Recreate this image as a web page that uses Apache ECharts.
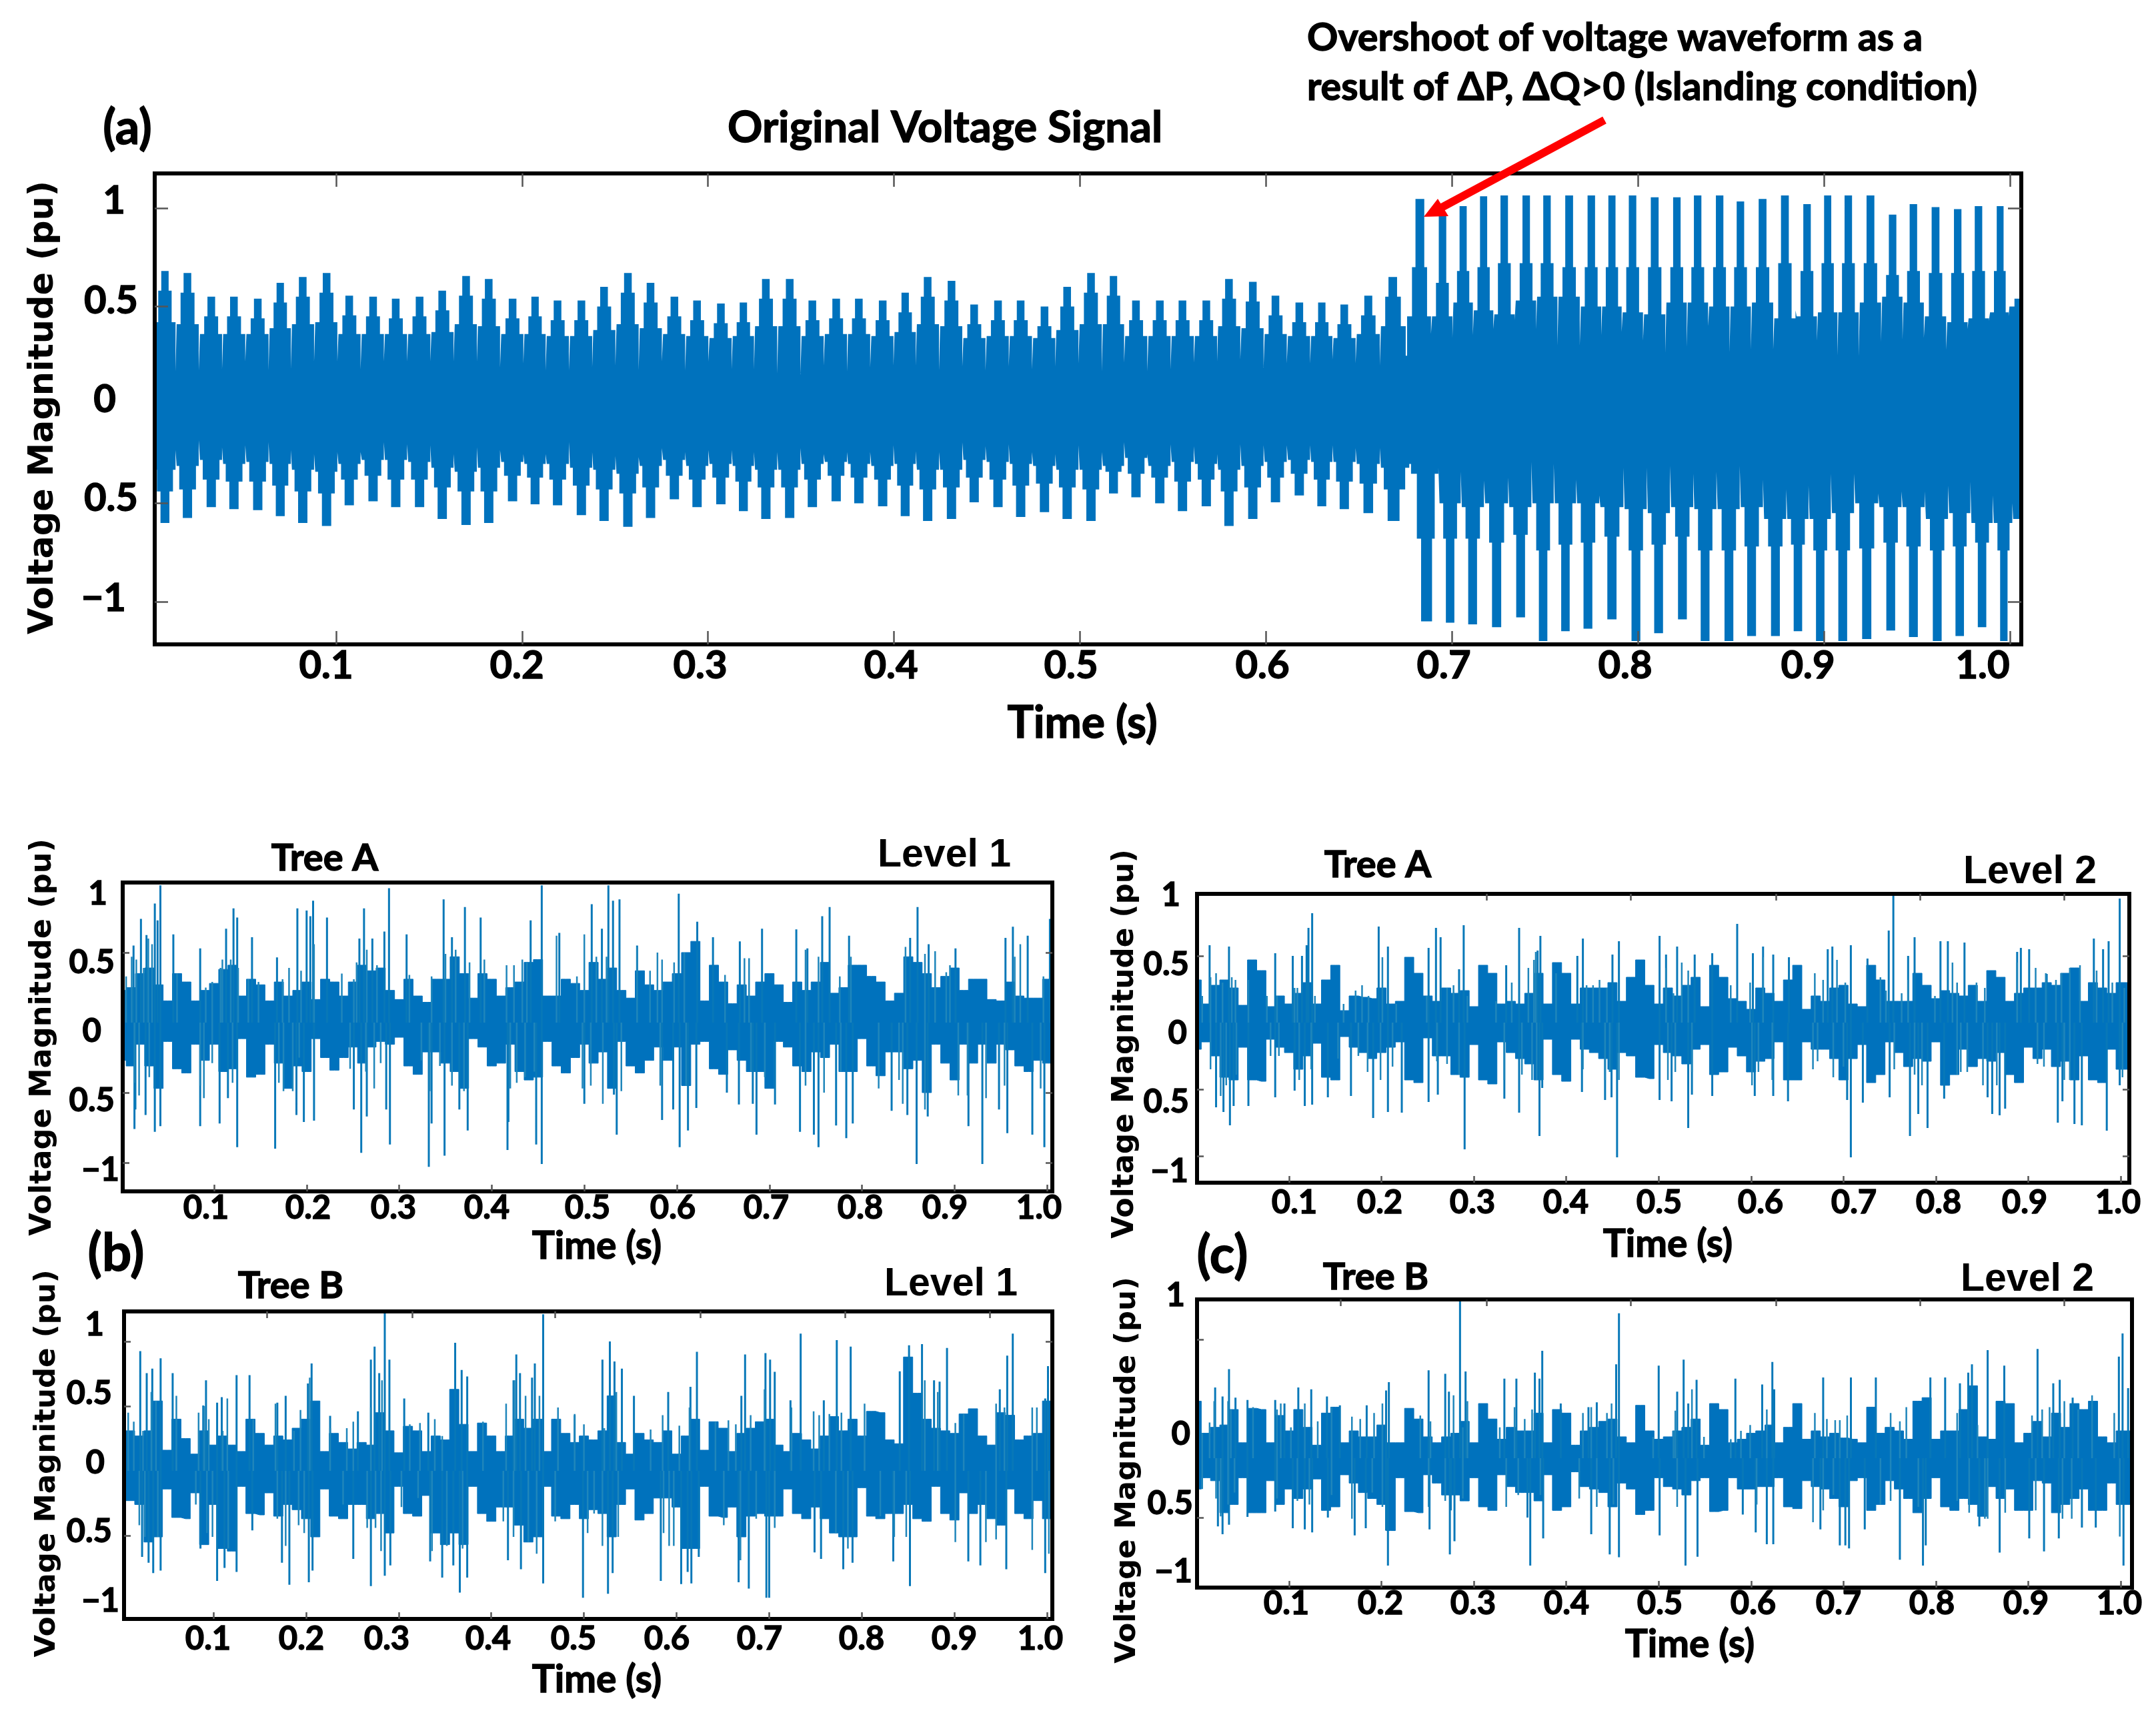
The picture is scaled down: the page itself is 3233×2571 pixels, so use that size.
<!DOCTYPE html>
<html><head><meta charset="utf-8">
<style>html,body{margin:0;padding:0;background:#fff}#c{width:3233px;height:2571px}</style>
<script src="https://cdn.jsdelivr.net/npm/echarts@6/dist/echarts.min.js"></script>
</head><body><div id="c"></div>
<script>
// ---------- Panel (a): burst-by-burst readings of the waveform envelope (pu) ----------
const aTimePre=[.008,.020,.033,.045,.058,.070,.082,.095,.107,.120,.132,.145,.157,.170,.182,.195,.207,.219,.232,.244,.257,.269,.282,.294,.307,.319,.331,.344,.356,.369,.381,.394,.406,.418,.431,.443,.456,.468,.481,.493,.506,.518,.530,.543,.555,.568,.580,.593,.605,.618,.630,.642,.655,.668];
const aPeakUpPre=[.68,.67,.55,.55,.54,.62,.65,.67,.555,.55,.54,.55,.58,.655,.64,.54,.55,.53,.53,.6,.67,.62,.55,.53,.515,.52,.64,.64,.53,.54,.54,.53,.57,.65,.63,.51,.53,.53,.5,.6,.67,.655,.53,.53,.53,.53,.64,.625,.555,.52,.52,.51,.555,.65];
const aNotchUpPre=[.35,.17,.175,.18,.22,.175,.18,.22,.22,.18,.22,.22,.22,.22,.22,.19,.21,.175,.175,.19,.2,.175,.22,.175,.22,.18,.18,.16,.155,.2,.17,.19,.2,.2,.175,.195,.175,.195,.18,.195,.21,.17,.215,.17,.18,.215,.22,.23,.19,.21,.21,.23,.21,.2];
const aBaseUpPre=[.42,.41,.36,.36,.36,.39,.41,.42,.36,.36,.36,.36,.37,.41,.4,.36,.36,.35,.35,.38,.41,.39,.36,.35,.34,.35,.4,.4,.35,.36,.36,.35,.37,.41,.4,.34,.35,.35,.34,.38,.41,.41,.35,.35,.35,.35,.4,.39,.36,.35,.35,.34,.36,.4];
const aShoulderUpPre=[.58,.57,.45,.45,.44,.52,.55,.57,.455,.45,.44,.45,.48,.555,.54,.44,.45,.43,.43,.5,.57,.52,.45,.43,.415,.42,.54,.54,.43,.44,.44,.43,.47,.55,.53,.41,.43,.43,.4,.5,.57,.555,.43,.43,.43,.43,.54,.525,.455,.42,.42,.41,.455,.55];
const aPeakLowPre=[-.6,-.575,-.52,-.53,-.535,-.565,-.6,-.615,-.51,-.49,-.52,-.52,-.58,-.61,-.6,-.49,-.505,-.51,-.56,-.59,-.62,-.575,-.48,-.52,-.505,-.54,-.58,-.575,-.52,-.49,-.5,-.515,-.565,-.59,-.58,-.495,-.52,-.57,-.545,-.58,-.59,-.45,-.47,-.5,-.54,-.515,-.615,-.58,-.495,-.46,-.515,-.53,-.55,-.59];
const aNotchLowPre=[-.33,-.23,-.18,-.215,-.205,-.19,-.23,-.25,-.24,-.24,-.19,-.2,-.205,-.25,-.215,-.23,-.25,-.25,-.19,-.24,-.26,-.265,-.22,-.24,-.23,-.23,-.24,-.24,-.22,-.25,-.24,-.24,-.205,-.235,-.24,-.19,-.21,-.2,-.24,-.25,-.205,-.24,-.19,-.25,-.2,-.21,-.25,-.2,-.205,-.205,-.205,-.205,-.22,-.22];
const aBaseLowPre=[-.33,-.31,-.28,-.3,-.29,-.3,-.33,-.34,-.3,-.28,-.28,-.29,-.32,-.34,-.32,-.29,-.3,-.3,-.32,-.33,-.35,-.31,-.28,-.31,-.3,-.31,-.33,-.33,-.3,-.29,-.3,-.31,-.3,-.33,-.33,-.28,-.29,-.3,-.31,-.33,-.33,-.31,-.27,-.31,-.29,-.3,-.33,-.31,-.29,-.28,-.29,-.29,-.3,-.32];
const aShoulderLowPre=[-.44,-.43,-.38,-.39,-.39,-.41,-.44,-.45,-.38,-.36,-.38,-.38,-.42,-.44,-.44,-.36,-.37,-.38,-.41,-.43,-.45,-.42,-.36,-.38,-.37,-.39,-.42,-.42,-.38,-.36,-.37,-.38,-.41,-.43,-.42,-.37,-.38,-.41,-.4,-.42,-.43,-.34,-.35,-.37,-.39,-.38,-.44,-.42,-.37,-.35,-.38,-.39,-.4,-.43];
const aTimePostUp=[.683,.695,.706,.717,.728,.740,.751,.763,.775,.786,.797,.809,.821,.832,.844,.855,.867,.879,.891,.902,.913,.925,.937,.948,.960,.972,.983,.995,1.004];
const aPeakUpPost=[1.046,.96,1.01,1.06,1.064,1.064,1.064,1.064,1.064,1.064,1.064,1.055,1.055,1.064,1.064,1.034,1.046,1.064,1.02,1.064,1.064,1.064,.967,1.02,1.005,.995,1.01,1.01,.54];
const aNotchUpPost=[.25,.36,.34,.355,.385,.43,.385,.3,.3,.355,.37,.325,.265,.295,.4,.265,.28,.28,.48,.325,.25,.245,.32,.33,.34,.28,.385,.43,.45];
const aBaseUpPost=[.45,.45,.52,.48,.46,.53,.55,.55,.5,.5,.47,.46,.52,.52,.5,.5,.52,.44,.45,.47,.47,.52,.55,.52,.45,.42,.44,.47,.5];
const aShoulderUpPost=[.7,.62,.68,.7,.72,.72,.72,.7,.7,.7,.7,.7,.7,.7,.7,.7,.7,.72,.68,.72,.72,.72,.66,.68,.67,.67,.68,.68,.5];
const aTimePostLow=[.687,.699,.711,.724,.737,.749,.761,.773,.786,.799,.811,.824,.836,.849,.861,.874,.886,.898,.910,.923,.936,.948,.961,.973,.985,.997,1.006];
const aPeakLowPost=[-1.1,-1.107,-1.115,-1.13,-1.08,-1.2,-1.15,-1.137,-1.09,-1.2,-1.16,-1.09,-1.2,-1.2,-1.175,-1.175,-1.15,-1.2,-1.2,-1.19,-1.147,-1.18,-1.2,-1.175,-1.13,-1.2,-.58];
const aNotchLowPost=[-.3,-.32,-.34,-.385,-.37,-.29,-.3,-.38,-.46,-.32,-.32,-.31,-.35,-.34,-.31,-.38,-.43,-.41,-.35,-.35,-.45,-.44,-.44,-.41,-.39,-.46,-.5];
const aBaseLowPost=[-.35,-.5,-.52,-.5,-.52,-.5,-.5,-.5,-.52,-.53,-.55,-.52,-.53,-.53,-.52,-.58,-.58,-.58,-.55,-.5,-.52,-.52,-.58,-.55,-.6,-.6,-.58];
const aShoulderLowPost=[-.68,-.68,-.68,-.7,-.66,-.74,-.71,-.7,-.67,-.74,-.71,-.67,-.74,-.74,-.72,-.72,-.71,-.74,-.74,-.73,-.7,-.72,-.74,-.72,-.7,-.74,-.58];

// ---------- Panels (b),(c): envelope read every 0.01 s, t = 0 ... 1.0 ----------
const bAUp=[.23,.25,.35,.39,.27,.155,.35,.29,.155,.23,.28,.38,.41,.19,.31,.27,.155,.29,.19,.23,.29,.165,.31,.29,.19,.29,.41,.37,.39,.23,.165,.31,.19,.145,.31,.31,.47,.35,.175,.35,.31,.19,.25,.29,.43,.45,.19,.19,.31,.28,.23,.43,.31,.39,.23,.175,.37,.27,.23,.29,.35,.5,.58,.155,.41,.29,.135,.27,.19,.29,.35,.27,.145,.29,.23,.29,.43,.21,.25,.41,.41,.33,.29,.155,.21,.47,.43,.35,.25,.33,.39,.23,.31,.31,.165,.155,.29,.19,.175,.175,.31];
const bALow=[-.27,-.31,-.155,-.31,-.47,-.135,-.33,-.36,-.155,-.27,-.155,-.35,-.33,-.115,-.39,-.37,-.155,-.29,-.47,-.31,-.35,-.115,-.25,-.34,-.25,-.175,-.29,-.175,-.135,-.155,-.105,-.31,-.37,-.21,-.21,-.29,-.35,-.47,-.115,-.175,-.31,-.29,-.155,-.35,-.41,-.39,-.135,-.31,-.36,-.25,-.155,-.29,-.21,-.47,-.135,-.31,-.36,-.27,-.175,-.27,-.175,-.45,-.155,-.135,-.33,-.37,-.195,-.27,-.35,-.35,-.47,-.135,-.175,-.31,-.35,-.21,-.25,-.155,-.35,-.35,-.115,-.31,-.38,-.21,-.21,-.33,-.27,-.5,-.155,-.29,-.41,-.155,-.29,-.155,-.29,-.155,-.195,-.31,-.35,-.27,-.29];
const bBUp=[.27,.31,.27,.31,.54,.16,.4,.25,.13,.31,.2,.27,.2,.15,.4,.29,.2,.27,.24,.33,.4,.54,.15,.29,.22,.17,.22,.2,.45,.31,.14,.345,.31,.15,.27,.24,.63,.36,.15,.37,.27,.15,.27,.4,.33,.4,.15,.4,.29,.22,.27,.24,.31,.58,.22,.13,.29,.24,.22,.31,.13,.27,.4,.16,.38,.33,.15,.29,.33,.38,.4,.2,.15,.29,.24,.17,.27,.42,.31,.4,.27,.46,.45,.24,.21,.88,.6,.4,.33,.31,.29,.44,.48,.27,.2,.45,.43,.24,.27,.29,.54];
const bBLow=[-.35,-.23,-.26,-.55,-.51,-.14,-.36,-.37,-.17,-.57,-.26,-.6,-.62,-.12,-.33,-.34,-.17,-.35,-.26,-.3,-.37,-.51,-.14,-.35,-.37,-.26,-.26,-.37,-.33,-.48,-.12,-.33,-.35,-.19,-.48,-.57,-.48,-.57,-.12,-.33,-.39,-.28,-.28,-.42,-.55,-.51,-.12,-.35,-.37,-.26,-.37,-.3,-.33,-.51,-.26,-.14,-.38,-.33,-.21,-.21,-.28,-.6,-.6,-.12,-.35,-.36,-.28,-.51,-.35,-.33,-.35,-.35,-.14,-.33,-.37,-.28,-.37,-.48,-.51,-.51,-.13,-.35,-.37,-.33,-.33,-.26,-.37,-.39,-.12,-.33,-.38,-.17,-.33,-.26,-.37,-.42,-.14,-.33,-.37,-.23,-.37];
const cAUp=[.32,.14,.28,.32,.26,.13,.47,.39,.12,.2,.14,.22,.3,.14,.32,.43,.09,.2,.19,.18,.26,.14,.16,.49,.37,.2,.16,.26,.22,.24,.12,.43,.37,.14,.16,.14,.22,.37,.14,.45,.37,.14,.26,.26,.26,.3,.16,.34,.47,.28,.14,.26,.2,.28,.34,.12,.43,.34,.18,.16,.1,.26,.22,.16,.32,.43,.1,.2,.16,.26,.28,.14,.12,.43,.32,.16,.16,.16,.37,.28,.18,.24,.22,.2,.28,.16,.39,.34,.16,.22,.26,.26,.3,.28,.37,.41,.16,.3,.26,.22,.3];
const cALow=[-.2,-.145,-.25,-.41,-.43,-.185,-.43,-.44,-.125,-.185,-.225,-.35,-.25,-.155,-.41,-.43,-.105,-.185,-.225,-.27,-.225,-.185,-.145,-.43,-.45,-.115,-.25,-.25,-.39,-.41,-.165,-.43,-.46,-.145,-.225,-.27,-.31,-.43,-.125,-.39,-.44,-.125,-.2,-.225,-.27,-.35,-.225,-.25,-.41,-.42,-.165,-.225,-.25,-.31,-.2,-.165,-.39,-.37,-.185,-.25,-.37,-.29,-.27,-.145,-.43,-.43,-.145,-.2,-.2,-.27,-.43,-.27,-.165,-.45,-.39,-.145,-.225,-.33,-.27,-.29,-.145,-.47,-.39,-.2,-.33,-.27,-.29,-.225,-.39,-.45,-.185,-.27,-.2,-.33,-.29,-.43,-.25,-.43,-.45,-.2,-.35];
const cBUp=[.48,.21,.26,.28,.41,.13,.42,.41,.13,.36,.23,.41,.26,.11,.38,.43,.13,.23,.18,.18,.28,.13,.13,.42,.33,.18,.13,.18,.21,.31,.13,.46,.33,.16,.26,.23,.23,.38,.13,.41,.38,.11,.23,.26,.31,.33,.18,.13,.445,.23,.16,.18,.23,.26,.33,.11,.46,.41,.13,.16,.21,.23,.28,.13,.26,.46,.16,.23,.18,.21,.17,.16,.13,.43,.21,.26,.23,.16,.48,.51,.16,.23,.23,.41,.61,.18,.16,.48,.46,.13,.21,.31,.18,.38,.26,.46,.41,.48,.18,.13,.23];
const cBLow=[-.26,-.165,-.19,-.46,-.39,-.165,-.46,-.46,-.19,-.39,-.26,-.34,-.26,-.175,-.44,-.41,-.14,-.21,-.29,-.34,-.39,-.61,-.165,-.45,-.46,-.14,-.21,-.31,-.31,-.36,-.165,-.41,-.44,-.14,-.24,-.29,-.29,-.36,-.14,-.44,-.41,-.115,-.24,-.26,-.29,-.41,-.21,-.26,-.475,-.44,-.165,-.24,-.26,-.31,-.19,-.165,-.45,-.44,-.165,-.26,-.26,-.24,-.24,-.165,-.41,-.425,-.19,-.24,-.26,-.34,-.41,-.19,-.165,-.44,-.39,-.19,-.26,-.34,-.46,-.34,-.165,-.41,-.44,-.34,-.39,-.49,-.24,-.34,-.26,-.44,-.44,-.19,-.21,-.46,-.39,-.34,-.26,-.44,-.44,-.21,-.39];

// ---------- Panels (b),(c): tall spikes [time s, value pu] ----------
const bASpikes=[[.021,.74],[.013,.55],[.027,.625],[.036,.85],[.039,.73],[.042,.98],[.056,.63],[.085,.53],[.113,.67],[.121,.815],[.125,.75],[.141,.61],[.168,.466],[.19,.815],[.2,.8],[.204,.76],[.207,.87],[.222,.75],[.262,.815],[.257,.6],[.271,.6],[.284,.65],[.289,.96],[.308,.63],[.348,.88],[.357,.61],[.371,.825],[.388,.75],[.442,.73],[.454,.98],[.473,.64],[.508,.845],[.519,.67],[.526,.98],[.531,.87],[.538,.88],[.557,.55],[.602,.92],[.622,.72],[.639,.61],[.668,.58],[.692,.67],[.729,.665],[.757,.76],[.765,.825],[.741,.53],[.786,.62],[.86,.825],[.852,.605],[.872,.56],[.901,.53],[.955,.605],[.963,.685],[.979,.62],[1.003,.74],
[.014,-.76],[.015,-.62],[.026,-.66],[.036,-.78],[.042,-.74],[.085,-.74],[.106,-.72],[.125,-.89],[.115,-.54],[.166,-.9],[.189,-.66],[.197,-.71],[.208,-.7],[.251,-.62],[.259,-.93],[.265,-.67],[.29,-.87],[.286,-.62],[.332,-1.03],[.335,-.72],[.349,-.95],[.365,-.62],[.374,-.77],[.417,-.91],[.418,-.71],[.448,-.87],[.454,-1.01],[.5,-.58],[.535,-.8],[.532,-.515],[.584,-.695],[.596,-.62],[.603,-.89],[.612,-.77],[.621,-.61],[.654,-.5],[.667,-.585],[.682,-.58],[.686,-.8],[.706,-.585],[.733,-.78],[.748,-.8],[.753,-.89],[.772,-.735],[.783,-.825],[.79,-.72],[.832,-.63],[.859,-1.01],[.849,-.66],[.871,-.67],[.915,-.74],[.93,-1.01],[.957,-.79],[.948,-.62],[.984,-.8],[.997,-.89]];
const bBSpikes=[[.021,.925],[.028,.755],[.034,.79],[.043,.87],[.056,.755],[.092,.7],[.089,.505],[.104,.527],[.109,.57],[.125,.74],[.139,.74],[.169,.527],[.178,.58],[.206,.83],[.202,.675],[.226,.425],[.256,.46],[.27,.86],[.274,.96],[.285,1.22],[.29,.86],[.279,.755],[.306,.56],[.332,.45],[.361,.99],[.368,.78],[.374,.73],[.427,.9],[.424,.7],[.431,.755],[.444,.72],[.447,.83],[.456,1.21],[.49,.43],[.52,.86],[.528,1.0],[.533,.845],[.541,.79],[.554,.58],[.591,.61],[.615,.65],[.622,.92],[.674,.9],[.67,.58],[.696,.91],[.701,.86],[.706,.765],[.734,1.06],[.723,.545],[.759,.545],[.773,1.01],[.788,.96],[.841,.77],[.851,.97],[.865,.98],[.878,.7],[.884,.69],[.892,.95],[.949,.63],[.957,.89],[.963,1.06],[.998,.56],[1.001,.81],
[.023,-.665],[.03,-.71],[.035,-.79],[.043,-.77],[.086,-.6],[.104,-.85],[.112,-.75],[.125,-.78],[.142,-.46],[.182,-.88],[.174,-.71],[.203,-.86],[.207,-.77],[.251,-.68],[.27,-.89],[.285,-.81],[.291,-.73],[.334,-.7],[.347,-.825],[.366,-.94],[.374,-.825],[.359,-.73],[.418,-.69],[.432,-.76],[.456,-.87],[.499,-.98],[.526,-.95],[.531,-.79],[.583,-.85],[.605,-.875],[.612,-.78],[.616,-.87],[.624,-.665],[.667,-.86],[.678,-.91],[.697,-.98],[.7,-.98],[.749,-.63],[.756,-.68],[.78,-.76],[.79,-.71],[.834,-.7],[.852,-.89],[.915,-.7],[.928,-.73],[.956,-.76],[.998,-.79]];
const cASpikes=[[.014,.58],[.035,.57],[.085,.52],[.104,.5],[.114,.5],[.119,.58],[.121,.71],[.125,.82],[.197,.72],[.207,.57],[.251,.56],[.259,.71],[.264,.64],[.284,.4],[.289,.73],[.335,.43],[.349,.71],[.369,.54],[.372,.65],[.418,.63],[.412,.5],[.45,.51],[.457,.61],[.501,.65],[.508,.51],[.52,.57],[.539,.51],[.558,.52],[.585,.74],[.602,.52],[.613,.57],[.624,.51],[.641,.49],[.683,.55],[.688,.57],[.708,.58],[.726,.48],[.749,.69],[.754,.95],[.77,.5],[.777,.64],[.805,.61],[.813,.61],[.831,.6],[.888,.53],[.892,.56],[.901,.55],[.92,.365],[.971,.63],[.981,.55],[.987,.61],[.999,.93],
[.021,-.635],[.029,-.67],[.036,-.77],[.04,-.625],[.056,-.625],[.085,-.56],[.106,-.51],[.117,-.625],[.125,-.615],[.142,-.56],[.167,-.55],[.191,-.715],[.207,-.67],[.222,-.675],[.251,-.595],[.261,-.54],[.29,-.95],[.333,-.57],[.349,-.675],[.371,-.85],[.374,-.49],[.417,-.52],[.442,-.58],[.455,-1.01],[.449,-.56],[.501,-.58],[.514,-.59],[.532,-.79],[.536,-.54],[.558,-.55],[.604,-.55],[.624,-.55],[.64,-.59],[.708,-1.01],[.704,-.58],[.721,-.6],[.75,-.56],[.772,-.85],[.781,-.685],[.791,-.79],[.809,-.57],[.861,-.685],[.869,-.695],[.875,-.645],[.856,-.56],[.932,-.75],[.937,-.59],[.95,-.76],[.958,-.77],[.985,-.81],[.999,-.47]];
const cBSpikes=[[.02,.595],[.028,.52],[.035,.75],[.042,.51],[.055,.49],[.085,.49],[.095,.46],[.11,.595],[.124,.58],[.141,.52],[.155,.445],[.184,.445],[.205,.57],[.208,.64],[.251,.74],[.269,.71],[.273,.56],[.285,1.32],[.291,.73],[.333,.67],[.346,.67],[.366,.72],[.374,.905],[.371,.67],[.394,.46],[.424,.43],[.433,.47],[.454,.79],[.457,1.22],[.5,.78],[.52,.56],[.527,.83],[.541,.66],[.532,.46],[.583,.67],[.612,.62],[.623,.81],[.625,.58],[.678,.68],[.708,.68],[.735,.68],[.794,.68],[.81,.68],[.826,.63],[.839,.79],[.835,.72],[.856,.91],[.874,.78],[.91,.92],[.927,.63],[.934,.66],[.948,.51],[.998,.855],[1.002,1.05],[1.008,.59],
[.023,-.575],[.028,-.64],[.035,-.56],[.055,-.495],[.085,-.45],[.104,-.59],[.117,-.6],[.125,-.625],[.142,-.5],[.171,-.65],[.183,-.59],[.207,-.905],[.205,-.61],[.252,-.6],[.274,-.81],[.279,-.7],[.275,-.44],[.361,-.905],[.358,-.5],[.375,-.675],[.427,-.64],[.447,-.81],[.457,-.835],[.501,-.65],[.529,-.905],[.542,-.83],[.591,-.475],[.605,-.625],[.617,-.725],[.624,-.725],[.675,-.6],[.696,-.735],[.702,-.735],[.706,-.76],[.723,-.6],[.761,-.855],[.786,-.905],[.789,-.735],[.847,-.575],[.869,-.795],[.901,-.675],[.917,-.785],[.933,-.675],[.958,-.585],[.973,-.585],[1.003,-.905]];

// ---------- Panels (b),(c): shorter, thinner spikes [time s, value pu] ----------
const bAThin=[[.005,.33],[.011,.47],[.016,.45],[.024,.39],[.029,.6],[.033,.56],[.06,.35],[.091,.25],[.098,.29],[.107,.39],[.109,.45],[.118,.45],[.126,.39],[.137,.31],[.148,.29],[.174,.31],[.181,.39],[.194,.37],[.208,.56],[.238,.35],[.251,.31],[.254,.43],[.265,.52],[.276,.41],[.311,.34],[.335,.33],[.35,.49],[.361,.52],[.376,.43],[.392,.45],[.416,.41],[.424,.41],[.433,.45],[.438,.43],[.47,.62],[.492,.33],[.5,.63],[.513,.47],[.524,.47],[.557,.54],[.571,.37],[.579,.5],[.584,.45],[.597,.43],[.608,.5],[.652,.34],[.673,.46],[.678,.46],[.739,.52],[.753,.47],[.776,.33],[.788,.47],[.847,.54],[.868,.49],[.879,.51],[.891,.36],[.895,.41],[.965,.47],[.971,.56],[.996,.33],
[.014,-.43],[.019,-.52],[.03,-.39],[.085,-.45],[.089,-.54],[.098,-.29],[.12,-.43],[.17,-.43],[.175,-.49],[.185,-.49],[.192,-.25],[.247,-.33],[.264,-.35],[.273,-.47],[.28,-.29],[.324,-.27],[.333,-.49],[.344,-.31],[.357,-.45],[.37,-.49],[.42,-.47],[.427,-.43],[.436,-.39],[.446,-.35],[.498,-.47],[.507,-.45],[.52,-.58],[.54,-.49],[.582,-.45],[.61,-.45],[.68,-.35],[.695,-.39],[.739,-.45],[.759,-.5],[.777,-.35],[.818,-.47],[.84,-.41],[.844,-.58],[.868,-.62],[.904,-.52],[.914,-.52],[.934,-.54],[.954,-.45],[.993,-.47]];
const bBThin=[[.008,.45],[.014,.38],[.024,.31],[.033,.61],[.038,.54],[.06,.58],[.084,.45],[.09,.5],[.095,.4],[.115,.56],[.11,.31],[.143,.4],[.167,.52],[.187,.31],[.194,.47],[.204,.72],[.226,.33],[.244,.33],[.251,.38],[.27,.49],[.282,.7],[.312,.36],[.323,.37],[.339,.4],[.347,.27],[.391,.38],[.416,.52],[.425,.7],[.437,.58],[.452,.58],[.472,.49],[.49,.44],[.5,.36],[.522,.33],[.535,.61],[.572,.32],[.585,.43],[.603,.35],[.614,.49],[.642,.38],[.656,.39],[.664,.36],[.68,.43],[.695,.63],[.724,.49],[.748,.46],[.754,.43],[.765,.44],[.778,.45],[.803,.52],[.868,.7],[.882,.61],[.901,.37],[.91,.44],[.945,.52],[.954,.49],[.984,.49],[.989,.49],
[.02,-.42],[.026,-.51],[.04,-.51],[.081,-.26],[.093,-.48],[.099,-.51],[.116,-.6],[.169,-.37],[.178,-.58],[.192,-.42],[.198,-.48],[.24,-.26],[.266,-.44],[.275,-.44],[.281,-.62],[.303,-.28],[.321,-.21],[.336,-.62],[.352,-.58],[.369,-.6],[.413,-.39],[.424,-.51],[.44,-.55],[.449,-.64],[.469,-.39],[.504,-.48],[.511,-.33],[.52,-.58],[.537,-.51],[.586,-.48],[.592,-.58],[.597,-.58],[.651,-.42],[.669,-.69],[.686,-.37],[.706,-.44],[.772,-.48],[.785,-.6],[.82,-.35],[.835,-.51],[.848,-.51],[.901,-.55],[.934,-.55],[.945,-.53],[.984,-.61],[1.002,-.64]];
const cAThin=[[.006,.2],[.015,.34],[.021,.37],[.028,.3],[.038,.34],[.042,.32],[.056,.32],[.076,.2],[.087,.2],[.106,.26],[.109,.26],[.128,.2],[.159,.14],[.172,.24],[.179,.28],[.186,.2],[.201,.49],[.216,.14],[.249,.2],[.271,.26],[.278,.28],[.293,.2],[.324,.16],[.341,.3],[.359,.41],[.365,.47],[.367,.53],[.389,.37],[.422,.28],[.429,.28],[.436,.32],[.444,.26],[.508,.41],[.516,.22],[.525,.45],[.532,.39],[.578,.28],[.599,.3],[.613,.49],[.669,.37],[.678,.32],[.693,.47],[.702,.3],[.74,.34],[.746,.24],[.763,.22],[.77,.32],[.799,.2],[.818,.45],[.823,.3],[.844,.3],[.853,.26],[.888,.45],[.908,.41],[.919,.37],[.93,.32],[.936,.37],[.945,.41],[.956,.43],[.974,.39],[.991,.3],[1.004,.26],
[.015,-.35],[.026,-.55],[.032,-.47],[.043,-.39],[.08,-.25],[.089,-.25],[.111,-.43],[.124,-.35],[.153,-.27],[.175,-.25],[.185,-.37],[.199,-.43],[.212,-.33],[.26,-.29],[.271,-.31],[.284,-.39],[.333,-.43],[.352,-.39],[.363,-.43],[.368,-.43],[.418,-.35],[.442,-.43],[.447,-.37],[.457,-.43],[.51,-.43],[.518,-.37],[.536,-.37],[.601,-.47],[.608,-.37],[.623,-.43],[.667,-.35],[.672,-.29],[.689,-.41],[.7,-.33],[.755,-.35],[.777,-.39],[.785,-.47],[.823,-.39],[.827,-.37],[.834,-.37],[.851,-.47],[.866,-.47],[.91,-.31],[.917,-.33],[.939,-.43],[.945,-.43],[1.002,-.41]];
const cBThin=[[.006,.21],[.014,.3],[.019,.48],[.034,.48],[.037,.41],[.061,.43],[.087,.41],[.091,.46],[.102,.26],[.117,.46],[.131,.31],[.146,.43],[.168,.35],[.177,.33],[.192,.38],[.201,.46],[.242,.36],[.253,.31],[.278,.53],[.288,.26],[.293,.48],[.328,.26],[.344,.43],[.355,.33],[.363,.41],[.418,.38],[.427,.43],[.444,.38],[.449,.46],[.494,.18],[.516,.23],[.518,.4],[.536,.58],[.549,.18],[.578,.16],[.589,.23],[.599,.28],[.617,.41],[.669,.38],[.682,.33],[.691,.32],[.696,.32],[.704,.36],[.751,.38],[.761,.31],[.768,.43],[.823,.38],[.845,.28],[.904,.36],[.915,.41],[.923,.43],[.939,.48],[.954,.41],[.969,.53],[.993,.38],
[.006,-.26],[.021,-.34],[.026,-.49],[.034,-.39],[.041,-.29],[.087,-.34],[.109,-.36],[.122,-.39],[.146,-.31],[.168,-.51],[.19,-.29],[.201,-.41],[.251,-.41],[.269,-.36],[.288,-.34],[.335,-.41],[.348,-.31],[.372,-.31],[.414,-.34],[.433,-.41],[.451,-.39],[.52,-.41],[.606,-.39],[.667,-.54],[.678,-.44],[.689,-.31],[.74,-.39],[.751,-.36],[.781,-.41],[.823,-.36],[.836,-.46],[.853,-.51],[.856,-.51],[.875,-.46],[.908,-.44],[.937,-.51],[.947,-.51],[.999,-.66]];

// ---------- Tick labels ----------
const xTickValues=[.1,.2,.3,.4,.5,.6,.7,.8,.9,1.0];
const xTickLabels=['0.1','0.2','0.3','0.4','0.5','0.6','0.7','0.8','0.9','1.0'];
const yTickValues=[1,.5,0,-.5,-1];
const yTickLabels=['1','0.5','0','0.5','\u22121'];

// ---------- Layout of the five panels ----------
const BLUE='#0072BD', SANS='Lato', NAME='"DejaVu Sans"', HEAVY=1.4;
const panels=[
 {L:232,T:260,R:3031,B:966,xMin:.0025,xMax:1.0061,yMin:-1.217,yMax:1.176,frame:6,tickLen:20,
  top:xTickValues,left:[1,.5,-.5,-1],right:[1,-1],fs:58,xLabelY:998,xLabelX:[489,775,1050,1336,1606,1893,2165,2437,2711,2973],
  yLabelY:[301,451,599,747,897],yLabelR:[188,207,174,207,189],
  time:{fs:66,y:1085,x:1623},volt:{fs:50.9,x:66,y:611}},
 {L:184,T:1323,R:1578,B:1786,xMin:.0013,xMax:1.0056,yMin:-1.205,yMax:1.0,frame:6,tickLen:10,
  top:[],left:[.5,-.5,-1],right:[.5,-.5,-1],fs:49,xLabelY:1811,xLabelX:[309,462,590,730,881,1009,1149,1290,1417,1558],
  yLabelY:[1340,1443,1546,1650,1754],yLabelR:[161,172,152,172,179],
  time:{fs:57,y:1869,x:895},volt:{fs:44.6,x:64,y:1555}},
 {L:186,T:1966,R:1578,B:2427,xMin:.0035,xMax:1.0057,yMin:-1.144,yMax:1.232,frame:6,tickLen:10,
  top:[.158,.315,.469,.626,.782,.938],left:[1,.5,-.5],right:[1],fs:49,xLabelY:2457,xLabelX:[312,452,580,732,860,1000,1139,1292,1431,1560],
  yLabelY:[1986,2089,2193,2296,2400],yLabelR:[156,168,157,168,179],
  time:{fs:57,y:2519,x:895},volt:{fs:43.5,x:71,y:2194}},
 {L:1795,T:1340,R:3193,B:1773,xMin:.0004,xMax:1.0094,yMin:-1.2,yMax:.965,frame:6,tickLen:10,
  top:[.314,.47,.627,.783,.939],left:[.5,-.5,-1],right:[.5,-.5,-1],fs:49,xLabelY:1803,xLabelX:[1941,2069,2208,2348,2488,2640,2780,2907,3036,3176],
  yLabelY:[1342,1446,1549,1652,1756],yLabelR:[1770,1783,1780,1783,1782],
  time:{fs:57,y:1866,x:2501},volt:{fs:43.7,x:1688,y:1565}},
 {L:1795,T:1948,R:3197,B:2380,xMin:.0004,xMax:1.0122,yMin:-1.09,yMax:1.337,frame:6,tickLen:10,
  top:[.156,.314,.47,.627,.783,.939],left:[1,.5,-.5],right:[],fs:49,xLabelY:2404,xLabelX:[1929,2070,2209,2349,2489,2629,2757,2897,3038,3178],
  yLabelY:[1942,2047,2150,2254,2356],yLabelR:[1777,1789,1785,1789,1788],
  time:{fs:57,y:2466,x:2534},volt:{fs:43.4,x:1691,y:2204}}
];

// Stair outline of each burst from its four readings: notch, base, shoulder, peak
const PRE_COUNT=aTimePre.length;
function burstLine(times,notch,base,shoulder,peak,fPre,fPost){
  const out=[];
  times.forEach((t,i)=>{
    const prev=i?times[i-1]:t-(times[1]-times[0]);
    const next=i<times.length-1?times[i+1]:t+(t-times[i-1]);
    const hl=(t-prev)/2,hr=(next-t)/2;
    const f=i<PRE_COUNT?fPre:fPost;
    const n1=i<times.length-1?notch[i+1]:notch[i];
    out.push([t-hl,notch[i]],[t-hl*f[2],notch[i]],[t-hl*f[2],base[i]],[t-hl*f[1],base[i]],[t-hl*f[1],shoulder[i]],[t-hl*f[0],shoulder[i]],[t-hl*f[0],peak[i]],
             [t+hr*f[0],peak[i]],[t+hr*f[0],shoulder[i]],[t+hr*f[1],shoulder[i]],[t+hr*f[1],base[i]],[t+hr*f[2],base[i]],[t+hr*f[2],n1]);
  });
  out.push([1.03,base[base.length-1]]);
  return out;
}
function gridLine(vals){
  const out=vals.map((v,i)=>[i/100,v]);
  out.push([1.03,vals[vals.length-1]]);
  return out;
}
function sticks(list){
  const out=[];
  list.forEach(s=>out.push([s[0],0],[s[0],s[1]],[s[0],null]));
  return out;
}
const envelopes=[
 [burstLine(aTimePre.concat(aTimePostUp),aNotchUpPre.concat(aNotchUpPost),aBaseUpPre.concat(aBaseUpPost),aShoulderUpPre.concat(aShoulderUpPost),aPeakUpPre.concat(aPeakUpPost),[.33,.6,.95],[.35,.6,.95]),
  burstLine(aTimePre.concat(aTimePostLow),aNotchLowPre.concat(aNotchLowPost),aBaseLowPre.concat(aBaseLowPost),aShoulderLowPre.concat(aShoulderLowPost),aPeakLowPre.concat(aPeakLowPost),[.4,.72,.95],[.38,.62,.95]),null,null],
 [gridLine(bAUp),gridLine(bALow),bASpikes,bAThin],
 [gridLine(bBUp),gridLine(bBLow),bBSpikes,bBThin],
 [gridLine(cAUp),gridLine(cALow),cASpikes,cAThin],
 [gridLine(cBUp),gridLine(cBLow),cBSpikes,cBThin]
];

const grids=[],xAxes=[],yAxes=[],series=[];
panels.forEach((p,k)=>{
  const W=p.R-p.L,H=p.B-p.T;
  grids.push({left:p.L,top:p.T,width:W,height:H,containLabel:false,outerBoundsMode:'none'});
  const line={show:true,onZero:false,lineStyle:{color:'#000',width:p.frame,cap:'square'}};
  const tick=(vals)=>({show:vals.length>0,inside:true,length:p.tickLen,customValues:vals,lineStyle:{color:'#555',width:2.5}});
  const xRich={},xMap={};
  xTickValues.forEach((v,i)=>{
    const px=p.L+(v-p.xMin)/(p.xMax-p.xMin)*W, s=p.xLabelX[i]-px;
    xRich['x'+i]={fontFamily:SANS,fontWeight:700,fontSize:p.fs,lineHeight:p.fs,color:'#000',textBorderColor:'#000',textBorderWidth:HEAVY,padding:[0,s<0?-2*s:0,0,s>0?2*s:0]};
    xMap[v.toFixed(3)]='{x'+i+'|'+xTickLabels[i]+'}';
  });
  const tShift=p.time.x-(p.L+W/2);
  xAxes.push({gridIndex:k,type:'value',position:'bottom',min:p.xMin,max:p.xMax,z:5,axisLine:line,splitLine:{show:false},
    axisTick:tick(xTickValues),
    axisLabel:{show:true,customValues:xTickValues,margin:p.xLabelY-p.B-p.fs/2,formatter:v=>xMap[v.toFixed(3)]||'',rich:xRich,hideOverlap:false,showMinLabel:true,showMaxLabel:true},
    name:'Time (s)',nameLocation:'middle',nameMoveOverlap:false,nameGap:p.time.y-p.B-p.time.fs/2,
    nameTextStyle:{fontFamily:SANS,fontWeight:700,fontSize:p.time.fs,lineHeight:p.time.fs,color:'#000',textBorderColor:'#000',textBorderWidth:HEAVY,verticalAlign:'top',padding:[0,tShift<0?-2*tShift:0,0,tShift>0?2*tShift:0]}});
  xAxes.push({gridIndex:k,type:'value',position:'top',min:p.xMin,max:p.xMax,z:5,axisLine:line,splitLine:{show:false},axisLabel:{show:false},axisTick:tick(p.top)});
  const yRich={},yMap={},yVals=[];
  yTickValues.forEach((v,i)=>{
    const cv=Math.max(p.yMin,Math.min(p.yMax,v)), py=p.T+(p.yMax-cv)/(p.yMax-p.yMin)*H, s=p.yLabelY[i]-py;
    yRich['y'+i]={fontFamily:SANS,fontWeight:700,fontSize:p.fs,lineHeight:p.fs,color:'#000',textBorderColor:'#000',textBorderWidth:HEAVY,padding:[s>0?2*s:0,p.L-p.yLabelR[i],s<0?-2*s:0,0]};
    yMap[cv.toFixed(3)]='{y'+i+'|'+yTickLabels[i]+'}';
    yVals.push(cv);
  });
  const vShift=p.volt.y-(p.T+H/2);
  yAxes.push({gridIndex:k,type:'value',position:'left',min:p.yMin,max:p.yMax,z:5,axisLine:line,splitLine:{show:false},
    axisTick:tick(p.left),
    axisLabel:{show:true,customValues:yVals,margin:0,formatter:v=>yMap[v.toFixed(3)]||'',rich:yRich,hideOverlap:false,showMinLabel:true,showMaxLabel:true},
    name:'Voltage Magnitude (pu)',nameLocation:'middle',nameMoveOverlap:false,nameRotate:90,nameGap:p.L-p.volt.x-p.volt.fs/2,
    nameTextStyle:{fontFamily:NAME,fontWeight:700,fontSize:p.volt.fs,lineHeight:p.volt.fs,color:'#000',padding:[0,vShift>0?2*vShift:0,0,vShift<0?-2*vShift:0]}});
  yAxes.push({gridIndex:k,type:'value',position:'right',min:p.yMin,max:p.yMax,z:5,axisLine:line,splitLine:{show:false},axisLabel:{show:false},axisTick:tick(p.right)});
  const idx={xAxisIndex:2*k,yAxisIndex:2*k,animation:false,silent:true,symbol:'none',showSymbol:false,type:'line',clip:true};
  const env=envelopes[k];
  [env[0],env[1]].forEach(d=>series.push(Object.assign({},idx,{data:d,step:k===0?false:'middle',
     lineStyle:{color:BLUE,width:k===0?0:1},areaStyle:{color:BLUE,opacity:1,origin:0}})));
  if(env[2]) series.push(Object.assign({},idx,{data:sticks(env[2]),connectNulls:false,lineStyle:{color:'#0878b8',width:3}}));
  if(env[3]) series.push(Object.assign({},idx,{data:sticks(env[3]),connectNulls:false,lineStyle:{color:'#1f86bb',width:2.5}}));
});

// ---------- Free-standing text and the arrow ----------
const txt=(text,x,y,size,opt)=>{
  const lato=!(opt&&opt.font);
  return {type:'text',z:100,x:x,y:y,style:{text:text,fill:'#000',align:(opt&&opt.align)||'center',verticalAlign:'middle',
   stroke:lato?'#000':null,lineWidth:lato?HEAVY:0,font:'700 '+size+'px '+((opt&&opt.font)||SANS)}};
};
const graphic=[
 txt('(a)',191,193,72),txt('(b)',174,1880,78),txt('(c)',1833,1883,78),
 txt('Original Voltage Signal',1417,192,65),
 txt('Overshoot of voltage waveform as a',1960,57,57.5,{align:'left'}),
 txt('result of \u0394P, \u0394Q>0 (Islanding condition)',1960,131,57.5,{align:'left'}),
 txt('Tree A',487,1287,56),txt('Tree B',436,1928,56),txt('Tree A',2066,1297,56),txt('Tree B',2063,1915,56),
 txt('Level 1',1416,1283,59,{font:'"Liberation Sans"'}),txt('Level 1',1426,1926,59,{font:'"Liberation Sans"'}),
 txt('Level 2',3044,1308,59,{font:'"Liberation Sans"'}),txt('Level 2',3040,1919,59,{font:'"Liberation Sans"'}),
 {type:'polyline',z:100,shape:{points:[[2406,180],[2160,312]]},style:{stroke:'#f00',lineWidth:12,fill:null}},
 {type:'polygon',z:101,shape:{points:[[2135,325],[2156,298],[2172,324]]},style:{fill:'#f00'}}
];

const chart=echarts.init(document.getElementById('c'),null,{renderer:'canvas',width:3233,height:2571});
chart.setOption({backgroundColor:'#fff',animation:false,grid:grids,xAxis:xAxes,yAxis:yAxes,series:series,graphic:graphic});
</script></body></html>
